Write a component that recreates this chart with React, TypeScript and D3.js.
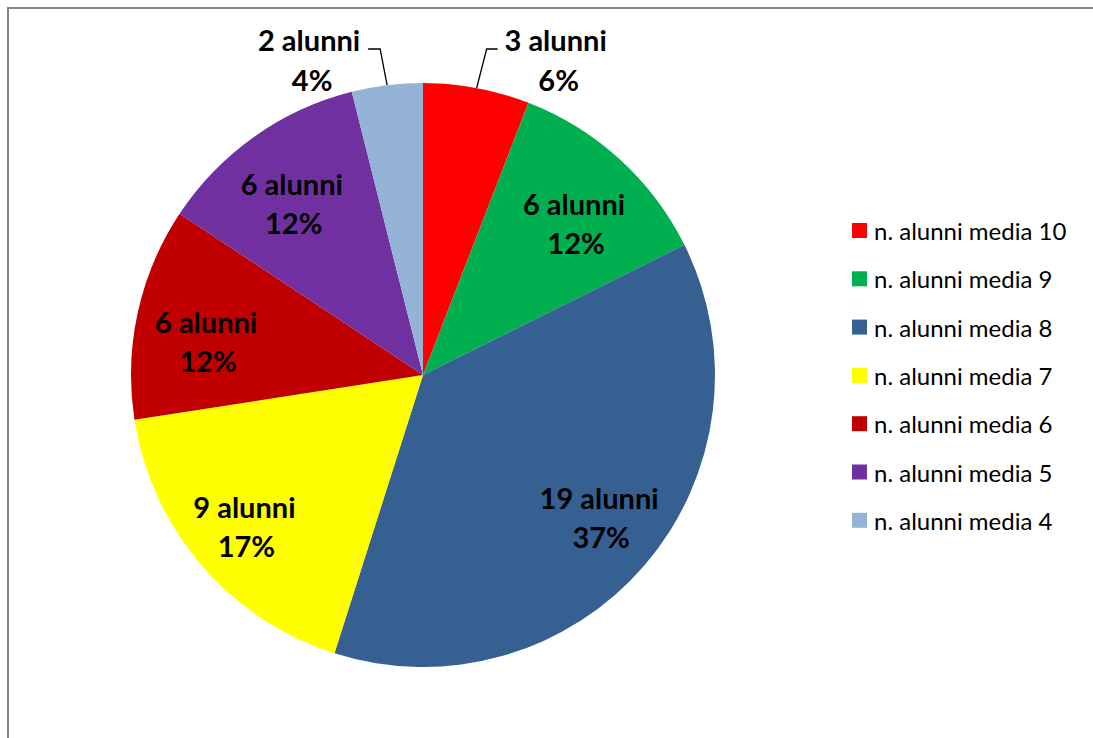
import React from "react";
import * as d3 from "d3";

const categories = [
  "n. alunni media 10",
  "n. alunni media 9",
  "n. alunni media 8",
  "n. alunni media 7",
  "n. alunni media 6",
  "n. alunni media 5",
  "n. alunni media 4",
];
const values = [3, 6, 19, 9, 6, 6, 2];
const percentLabels = ["6%", "12%", "37%", "17%", "12%", "12%", "4%"];
const colors = ["#FF0000", "#00B050", "#376092", "#FFFF00", "#C00000", "#7030A0", "#95B3D7"];
const outside = [true, false, false, false, false, false, true];
// small layout nudges for inside labels (best-fit placement), [dx, dy]
const labelNudge: [number, number][] = [
  [0, 0],
  [1.5, 12],
  [7.5, -2.5],
  [-10, 6.5],
  [0, 13.5],
  [-3, 9],
  [0, 0],
];

const W = 1093;
const H = 738;
const CX = 423;
const CY = 375;
const R = 292;
const FONT = "Lato, 'Open Sans', sans-serif";
const LABEL_SIZE = 29;

export default function App() {
  const pie = d3
    .pie<number>()
    .value((d) => d)
    .sort(null)
    .startAngle(0)
    .endAngle(2 * Math.PI);
  const arcs = pie(values);
  const arc = d3.arc<d3.PieArcDatum<number>>().innerRadius(0).outerRadius(R);
  const labelR = 222;
  const lineGap = 39.5;

  const Label = (p: { x: number; y: number; a: string; b: string; gap: number; dx2?: number }) => (
    <g>
      <text
        x={p.x}
        y={p.y}
        textAnchor="middle"
        dominantBaseline="central"
        fontSize={LABEL_SIZE}
        fontWeight="bold"
        fill="#000"
      >
        {p.a}
      </text>
      <text
        x={p.x + (p.dx2 || 0)}
        y={p.y + p.gap}
        textAnchor="middle"
        dominantBaseline="central"
        fontSize={LABEL_SIZE}
        fontWeight="bold"
        fill="#000"
      >
        {p.b}
      </text>
    </g>
  );

  return (
    <svg
      width={W}
      height={H}
      style={{ position: "absolute", left: 0, top: 0, background: "#fff" }}
      fontFamily={FONT}
    >
      <rect x={0} y={0} width={W} height={H} fill="#fff" />
      <path d={`M8,${H} L8,8 L${W},8`} fill="none" stroke="#868686" strokeWidth={2} />
      <g transform={`translate(${CX},${CY})`}>
        {arcs.map((a, i) => (
          <path key={i} d={arc(a) || ""} fill={colors[i]} />
        ))}
        {arcs.map((a, i) => {
          const mid = (a.startAngle + a.endAngle) / 2;
          if (outside[i]) {
            const px = R * Math.sin(mid);
            const py = -R * Math.cos(mid);
            const elbowY = 49 - CY;
            const right = Math.sin(mid) > 0;
            const ex = px + (right ? 10 : -7);
            const hx = right ? ex + 11 : ex - 12;
            const tx = right ? hx + 58 : hx - 59;
            return (
              <g key={i}>
                <path
                  d={`M${px},${py} L${ex},${elbowY} L${hx},${elbowY}`}
                  fill="none"
                  stroke="#000"
                  strokeWidth={1.3}
                />
                <Label
                  x={tx}
                  y={elbowY - 10}
                  a={`${values[i]} alunni`}
                  b={percentLabels[i]}
                  gap={40}
                  dx2={3}
                />
              </g>
            );
          }
          const lx = labelR * Math.sin(mid) + labelNudge[i][0];
          const ly = -labelR * Math.cos(mid) + labelNudge[i][1];
          return (
            <Label
              key={i}
              x={lx}
              y={ly - lineGap / 2}
              a={`${values[i]} alunni`}
              b={percentLabels[i]}
              gap={lineGap}
              dx2={2}
            />
          );
        })}
      </g>
      <g>
        {categories.map((c, i) => {
          const y = 230.5 + i * 48.3;
          return (
            <g key={c}>
              <rect x={852} y={y - 7.5} width={15} height={15} fill={colors[i]} />
              <text
                x={874}
                y={y}
                dominantBaseline="central"
                fontSize={24}
                fill="#000"
              >
                {c}
              </text>
            </g>
          );
        })}
      </g>
    </svg>
  );
}
